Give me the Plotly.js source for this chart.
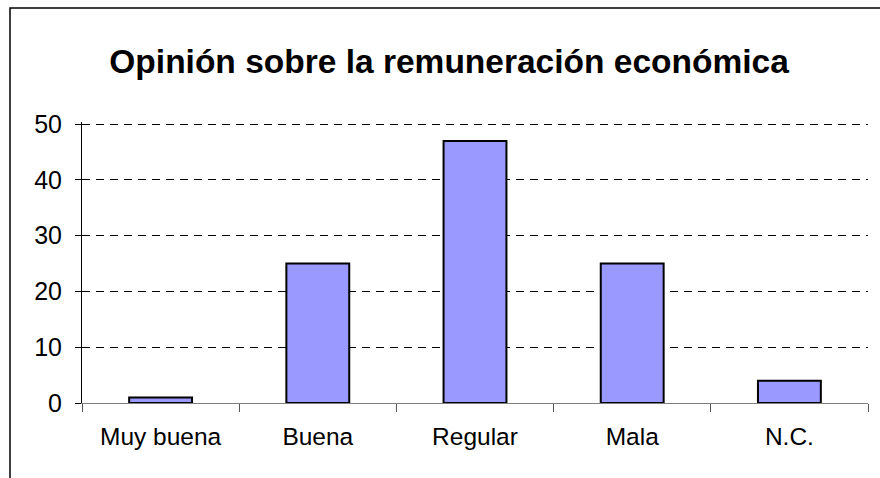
<!DOCTYPE html>
<html>
<head>
<meta charset="utf-8">
<script src="https://cdn.plot.ly/plotly-3.0.1.min.js"></script>
<style>
  html, body { margin: 0; padding: 0; background: #ffffff; }
  #chart { width: 880px; height: 478px; }
</style>
</head>
<body>
<div id="chart"></div>
<script>
const categories = ["Muy buena", "Buena", "Regular", "Mala", "N.C."];
const values = [1, 25, 47, 25, 4];
const yTicks = [0, 10, 20, 30, 40, 50];
const chartTitle = "Opinión sobre la remuneración económica";

const trace = {
  type: "bar",
  x: categories,
  y: values,
  marker: { color: "#9999FF", line: { color: "#000000", width: 2 } },
  hoverinfo: "x+y"
};

const layout = {
  width: 880,
  height: 478,
  margin: { l: 82, r: 12, t: 122, b: 75 },
  paper_bgcolor: "#ffffff",
  plot_bgcolor: "#ffffff",
  showlegend: false,
  bargap: 0.6,
  font: { family: "Liberation Sans, Arial, sans-serif", color: "#000000" },
  title: {
    text: "<b>" + chartTitle + "</b>",
    font: { size: 33.5, family: "Liberation Sans, Arial, sans-serif", color: "#000000" },
    x: 0.467, xanchor: "center", xref: "paper",
    y: 46, yref: "container", yanchor: "middle"
  },
  xaxis: {
    type: "category",
    showgrid: false,
    showline: true,
    linecolor: "#808080",
    linewidth: 1,
    ticks: "outside",
    tickson: "boundaries",
    ticklen: 8,
    tickcolor: "#555555",
    tickwidth: 1,
    tickfont: { size: 24.5, color: "#000000" },
    ticklabelstandoff: 12,
    zeroline: false,
    fixedrange: true
  },
  yaxis: {
    range: [0, 50.4],
    tickvals: yTicks,
    showgrid: true,
    gridcolor: "#000000",
    gridwidth: 1,
    griddash: "8px,6px",
    showline: true,
    linecolor: "#000000",
    linewidth: 1,
    ticks: "outside",
    ticklen: 6,
    tickcolor: "#000000",
    tickfont: { size: 25, color: "#000000" },
    ticklabelstandoff: 8,
    zeroline: false,
    fixedrange: true
  },
  shapes: [{
    type: "rect",
    xref: "paper", yref: "paper",
    x0: (10 - 82) / 786, x1: 1.2,
    y0: -0.5, y1: (403 - 8) / 281,
    line: { color: "#000000", width: 1.5 },
    fillcolor: "rgba(0,0,0,0)",
    layer: "below"
  }]
};

Plotly.newPlot("chart", [trace], layout, { displayModeBar: false, staticPlot: true });
</script>
</body>
</html>
